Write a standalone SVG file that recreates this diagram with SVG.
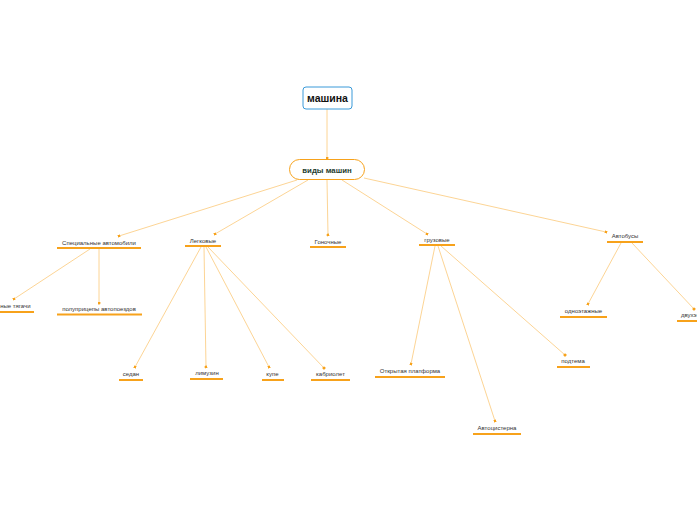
<svg xmlns="http://www.w3.org/2000/svg" width="697" height="520" viewBox="0 0 697 520">
<style>
.t{font-family:"Liberation Sans",Arial,sans-serif;font-size:6px;fill:#333;text-anchor:middle}
.u{stroke:#f7a21b;stroke-width:2}
.c{stroke:#fbc97a;stroke-width:0.8;fill:none;marker-end:url(#a)}
</style>
<defs>
<marker id="a" viewBox="0 0 4 4" refX="2" refY="2" markerWidth="3" markerHeight="3" markerUnits="userSpaceOnUse" orient="auto"><circle cx="2" cy="2" r="2" fill="#f7a21b"/></marker>
</defs>
<rect width="697" height="520" fill="#fff"/>
<g id="connectors">
<line class="c" x1="327" y1="109" x2="327" y2="158"/>
<line class="c" x1="297" y1="180" x2="119" y2="236"/>
<line class="c" x1="308" y1="180" x2="215" y2="234"/>
<line class="c" x1="327" y1="180" x2="328" y2="235"/>
<line class="c" x1="342" y1="180" x2="427" y2="234"/>
<line class="c" x1="364" y1="178" x2="606" y2="232"/>
<line class="c" x1="90" y1="249" x2="14" y2="299"/>
<line class="c" x1="99" y1="249" x2="99" y2="303"/>
<line class="c" x1="201" y1="247" x2="135" y2="367"/>
<line class="c" x1="204" y1="247" x2="206" y2="367"/>
<line class="c" x1="206" y1="247" x2="269" y2="367"/>
<line class="c" x1="208" y1="247" x2="324" y2="368"/>
<line class="c" x1="435" y1="246" x2="411" y2="364"/>
<line class="c" x1="438" y1="246" x2="495" y2="421"/>
<line class="c" x1="441" y1="246" x2="565" y2="355"/>
<line class="c" x1="621" y1="243" x2="588" y2="304"/>
<line class="c" x1="632" y1="243" x2="694" y2="309"/>
</g>
<g id="root">
<rect x="303" y="87" width="49" height="22" rx="3" fill="#fff" stroke="#3a9ad9" stroke-width="1"/>
<text x="327.5" y="101.5" font-family="Liberation Sans,Arial,sans-serif" font-size="10.5" font-weight="bold" fill="#111" text-anchor="middle">машина</text>
</g>
<g id="vidy">
<rect x="289.5" y="159.5" width="75" height="20" rx="10" fill="#fff" stroke="#f7a21b" stroke-width="1"/>
<text x="327" y="172.5" font-family="Liberation Sans,Arial,sans-serif" font-size="7.8" font-weight="bold" fill="#1d3b2e" text-anchor="middle">виды машин</text>
</g>
<g id="spec"><text class="t" x="99" y="245">Специальные автомобили</text><line class="u" x1="57" y1="248" x2="141" y2="248"/></g>
<g id="legk"><text class="t" x="203" y="243">Легковые</text><line class="u" x1="185" y1="246" x2="221" y2="246"/></g>
<g id="gon"><text class="t" x="328" y="243.5">Гоночные</text><line class="u" x1="310" y1="247" x2="346" y2="247"/></g>
<g id="gruz"><text class="t" x="437" y="242">грузовые</text><line class="u" x1="419" y1="245" x2="455" y2="245"/></g>
<g id="avtobus"><text class="t" x="625" y="238">Автобусы</text><line class="u" x1="607" y1="242" x2="643" y2="242"/></g>
<g id="tyagachi"><text class="t" x="30.5" y="308" style="text-anchor:end">Седельные тягачи</text><line class="u" x1="-10" y1="312" x2="34" y2="312"/></g>
<g id="polu"><text class="t" x="99" y="311">полуприцепы автопоездов</text><line class="u" x1="57" y1="314.5" x2="142" y2="314.5"/></g>
<g id="sedan"><text class="t" x="131" y="376">седан</text><line class="u" x1="119" y1="380" x2="143" y2="380"/></g>
<g id="limuzin"><text class="t" x="207" y="375">лимузин</text><line class="u" x1="190" y1="379" x2="223" y2="379"/></g>
<g id="kupe"><text class="t" x="272.5" y="376">купе</text><line class="u" x1="262" y1="380" x2="284" y2="380"/></g>
<g id="kabr"><text class="t" x="330.5" y="376">кабриолет</text><line class="u" x1="311" y1="380" x2="350" y2="380"/></g>
<g id="platforma"><text class="t" x="410" y="373">Открытая платформа</text><line class="u" x1="375" y1="377" x2="445" y2="377"/></g>
<g id="cisterna"><text class="t" x="497" y="430">Автоцистерна</text><line class="u" x1="473" y1="434" x2="521" y2="434"/></g>
<g id="podtema"><text class="t" x="573" y="363">подтема</text><line class="u" x1="557" y1="367" x2="590" y2="367"/></g>
<g id="odno"><text class="t" x="583.5" y="313">одноэтажные</text><line class="u" x1="560" y1="317" x2="607" y2="317"/></g>
<g id="dvuh"><text class="t" x="681" y="317" style="text-anchor:start">двухэтажные</text><line class="u" x1="677" y1="321" x2="710" y2="321"/></g>
</svg>
